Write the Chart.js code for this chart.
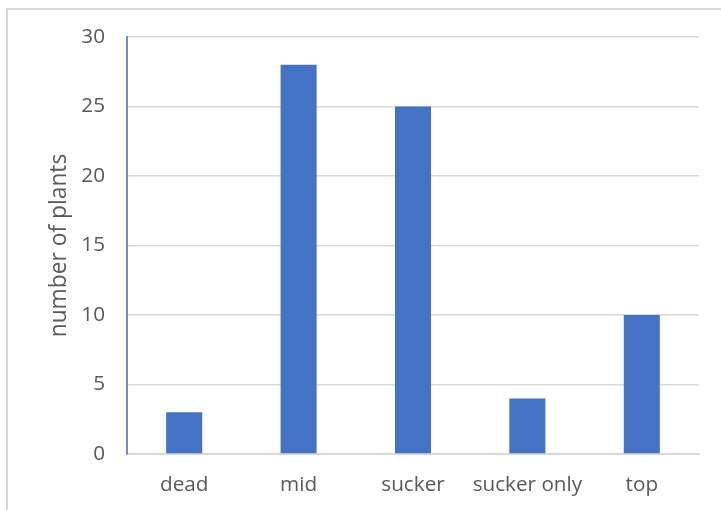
<!DOCTYPE html>
<html>
<head>
<meta charset="utf-8">
<script src="https://cdn.jsdelivr.net/npm/chart.js@4/dist/chart.umd.min.js"></script>
<style>
  html, body { margin: 0; padding: 0; background: #fff; }
  #wrap { position: relative; width: 721px; height: 510px; }
  #frame { position: absolute; left: 6px; top: 8px; right: 0; bottom: 0;
           border-left: 2px solid #d9d9d9; border-top: 2px solid #d9d9d9; }
  canvas { position: absolute; left: 0; top: 0; }
</style>
</head>
<body>
<div id="wrap">
  <div id="frame"></div>
  <canvas id="plantChart" width="721" height="510"></canvas>
</div>
<script>
// chart data
const categories = ['dead', 'mid', 'sucker', 'sucker only', 'top'];
const plantCounts = [3, 28, 25, 4, 10];
const yTicks = [0, 5, 10, 15, 20, 25, 30];

const textColor = '#595959';
const fontFamily = '"Open Sans", Lato, sans-serif';

const ctx = document.getElementById('plantChart').getContext('2d');

const plantChart = new Chart(ctx, {
    type: 'bar',
    data: {
        labels: categories,
        datasets: [{
            label: 'number of plants',
            data: plantCounts,
            backgroundColor: '#4472C4',
            categoryPercentage: 1,
            barPercentage: 0.315,
        }]
    },
    options: {
        responsive: false,
        animation: false,
        layout: { padding: { left: 0, top: 37, right: 22, bottom: 0 } },
        plugins: {
            legend: { display: false },
            tooltip: { enabled: false }
        },
        scales: {
            x: {
                grid: { display: false, drawTicks: false },
                border: { color: '#d9d9d9', width: 2 },
                ticks: {
                    color: textColor,
                    font: { family: fontFamily, size: 20.7 },
                    padding: 19,
                    maxRotation: 0,
                    autoSkip: false
                },
                afterFit: (scale) => { scale.height = 56; }
            },
            y: {
                min: 0,
                max: 30,
                afterBuildTicks: (scale) => {
                    scale.ticks = yTicks.map(v => ({ value: v }));
                },
                grid: { color: '#d9d9d9', lineWidth: 1.5, drawTicks: false },
                border: { color: '#6a8fd6', width: 2 },
                ticks: {
                    color: textColor,
                    font: { family: fontFamily, size: 20.7 },
                    padding: 22
                },
                title: {
                    display: true,
                    text: 'number of plants',
                    color: textColor,
                    font: { family: fontFamily, size: 22.8 },
                    padding: { top: 46, bottom: 0 }
                },
                afterFit: (scale) => { scale.width = 127; }
            }
        }
    }
});
</script>
</body>
</html>
